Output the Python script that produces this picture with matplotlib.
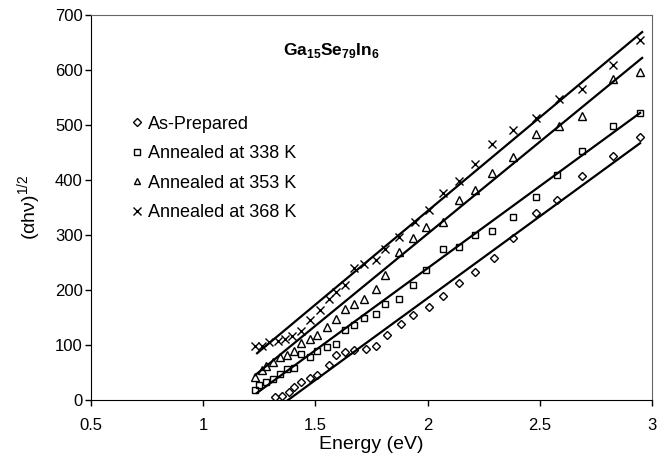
import matplotlib.pyplot as plt

plt.rcParams['font.family'] = ['Liberation Sans', 'DejaVu Sans']
plt.rcParams['mathtext.fontset'] = 'custom'
plt.rcParams['mathtext.rm'] = 'Liberation Sans'
plt.rcParams['mathtext.bf'] = 'Liberation Sans:bold'

# As-prepared (diamonds)
e_as = [1.322, 1.353, 1.384, 1.405, 1.436, 1.478, 1.509, 1.560, 1.592, 1.633, 1.674, 1.726, 1.768,
        1.819, 1.881, 1.933, 2.006, 2.068, 2.140, 2.213, 2.296, 2.379, 2.482, 2.575, 2.689, 2.824, 2.948]
v_as = [5, 8, 14, 24, 32, 40, 46, 63, 81, 87, 91, 93, 98,
        119, 139, 155, 170, 190, 213, 233, 258, 294, 340, 364, 408, 444, 479]

# Annealed at 338 K (squares)
e_338 = [1.229, 1.250, 1.281, 1.312, 1.343, 1.374, 1.405, 1.436, 1.478, 1.509, 1.550, 1.592, 1.633,
         1.674, 1.716, 1.768, 1.809, 1.871, 1.933, 1.995, 2.068, 2.140, 2.213, 2.285, 2.379, 2.482,
         2.575, 2.689, 2.824, 2.948]
v_338 = [18, 27, 32, 39, 48, 56, 59, 84, 79, 90, 97, 101, 128,
         136, 150, 156, 174, 183, 210, 236, 275, 279, 300, 308, 333, 370,
         410, 452, 498, 521]

# Annealed at 353 K (triangles)
e_353 = [1.229, 1.260, 1.281, 1.312, 1.343, 1.374, 1.405, 1.436, 1.478, 1.509, 1.550, 1.592, 1.633,
         1.674, 1.716, 1.768, 1.809, 1.871, 1.933, 1.995, 2.068, 2.140, 2.213, 2.285, 2.379, 2.482,
         2.586, 2.689, 2.824, 2.948]
v_353 = [41, 54, 62, 70, 78, 81, 90, 103, 111, 119, 132, 148, 165,
         175, 184, 201, 227, 270, 294, 314, 324, 364, 381, 412, 441, 483,
         498, 517, 583, 597]

# Annealed at 368 K (crosses)
e_368 = [1.229, 1.260, 1.291, 1.333, 1.364, 1.395, 1.436, 1.478, 1.519, 1.560, 1.592, 1.633, 1.674,
         1.716, 1.768, 1.809, 1.871, 1.944, 2.006, 2.068, 2.140, 2.213, 2.285, 2.379, 2.482, 2.586,
         2.689, 2.824, 2.948]
v_368 = [99, 99, 105, 108, 111, 117, 126, 145, 163, 184, 197, 209, 240,
         248, 255, 275, 296, 323, 346, 377, 399, 430, 465, 491, 512, 548,
         566, 610, 655]

# linear fits (start/end energy and value)
fit_e = {'as': [1.378, 2.947], '338': [1.240, 2.947], '353': [1.231, 2.956], '368': [1.240, 2.956]}
fit_v = {'as': [0, 467], '338': [13, 522], '353': [45, 622], '368': [85, 669]}

fig = plt.figure(figsize=(6.59, 4.66), dpi=100)
ax = fig.add_axes([0.1381, 0.1416, 0.8513, 0.8262])

mk = dict(color='black', mfc='none', linestyle='none', mew=1.0)
ax.plot(e_as, v_as, marker='D', ms=4.3, label='As-Prepared', **mk)
ax.plot(e_338, v_338, marker='s', ms=5, label='Annealed at 338 K', **mk)
ax.plot(e_353, v_353, marker='^', ms=5.5, label='Annealed at 353 K', **mk)
ax.plot(e_368, v_368, marker='x', ms=6, label='Annealed at 368 K', **mk)

for k in ['as', '338', '353', '368']:
    ax.plot(fit_e[k], fit_v[k], color='black', lw=1.6)

ax.set_xlim(0.5, 3)
ax.set_ylim(0, 700)
ax.set_xticks([0.5, 1, 1.5, 2, 2.5, 3])
ax.set_xticklabels(['0.5', '1', '1.5', '2', '2.5', '3'])
ax.set_yticks(range(0, 701, 100))
ax.tick_params(direction='out', labelsize=12, length=4, width=1)
ax.tick_params(axis='x', pad=9)
ax.tick_params(axis='y', pad=2)
for s in ['top', 'right']:
    ax.spines[s].set_color('#666666')
ax.set_xlabel('Energy (eV)', fontsize=14, labelpad=2)
ax.set_ylabel('(αhν)$^{1/2}$', fontsize=14, labelpad=8)

ax.text(1.57, 636, r'$\mathbf{Ga}_{\mathbf{15}}\mathbf{Se}_{\mathbf{79}}\mathbf{In}_{\mathbf{6}}$',
        ha='center', va='center', fontsize=12.5)

ax.legend(loc='upper left', bbox_to_anchor=(0.0595, 0.757), frameon=False, fontsize=13,
          handlelength=0.6, handletextpad=0.31, labelspacing=0.69, borderaxespad=0,
          markerscale=0.85)

fig.savefig('out.png', dpi=100)
